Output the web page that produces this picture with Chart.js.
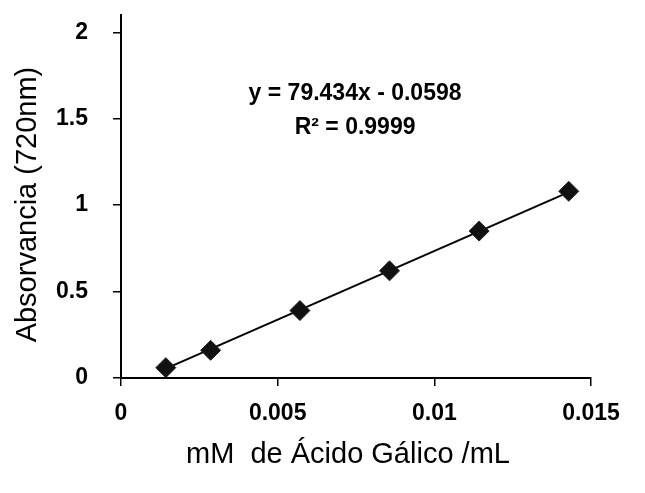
<!DOCTYPE html>
<html>
<head>
<meta charset="utf-8">
<script src="https://cdn.jsdelivr.net/npm/chart.js@4/dist/chart.umd.min.js"></script>
<style>
  html, body { margin: 0; padding: 0; background: #fff; }
  #wrap { width: 645px; height: 493px; position: relative; }
</style>
</head>
<body>
<div id="wrap"><canvas id="myChart"></canvas></div>
<script>
// data
const concX = [0.00143, 0.00286, 0.00571, 0.00857, 0.01143, 0.01429];
const absY = [0.06, 0.16, 0.39, 0.62, 0.85, 1.08];
// trend line ends (from the fitted line shown)
const trendX = [0.00143, 0.01429];
const trendY = [0.054, 1.075];
const xTickLabels = ['0', '0.005', '0.01', '0.015'];
const yTickLabels = ['0', '0.5', '1', '1.5', '2'];
const eqLines = ['y = 79.434x - 0.0598', 'R\u00b2 = 0.9999'];
const eqPos = [[0.00747, 1.647], [0.00747, 1.451]];

const points = concX.map((x, i) => ({ x: x, y: absY[i] }));
const trend = trendX.map((x, i) => ({ x: x, y: trendY[i] }));
const FONT = '"Liberation Sans", Arial, sans-serif';

// draws the equation label inside the plot
const eqLabel = {
  id: 'eqLabel',
  afterDatasetsDraw(chart) {
    const ctx = chart.ctx;
    const xs = chart.scales.x, ys = chart.scales.y;
    ctx.save();
    ctx.fillStyle = '#000';
    ctx.font = 'bold 23px ' + FONT;
    ctx.textAlign = 'center';
    ctx.textBaseline = 'middle';
    eqLines.forEach((t, i) => {
      ctx.fillText(t, xs.getPixelForValue(eqPos[i][0]), ys.getPixelForValue(eqPos[i][1]));
    });
    ctx.restore();
  }
};

const config = {
  type: 'scatter',
  data: {
    datasets: [{
      label: 'puntos',
      data: points,
      pointStyle: 'rectRot',
      pointRadius: 10,
      pointBackgroundColor: '#111',
      pointBorderColor: '#222',
      pointBorderWidth: 1,
      order: 1
    }, {
      type: 'line',
      label: 'tendencia',
      data: trend,
      borderColor: '#000',
      borderWidth: 2,
      pointRadius: 0,
      fill: false,
      order: 2
    }]
  },
  options: {
    responsive: true,
    maintainAspectRatio: false,
    animation: false,
    layout: { padding: { top: 15, right: 54, bottom: 17, left: 8 } },
    plugins: { legend: { display: false }, tooltip: { enabled: false } },
    scales: {
      x: {
        type: 'linear',
        min: 0,
        max: 0.015,
        afterBuildTicks: s => { s.ticks = xTickLabels.map(v => ({ value: Number(v) })); },
        afterFit: s => { s.height = 98; },
        ticks: {
          padding: 14,
          color: '#000',
          font: { family: FONT, size: 23, weight: 'bold' },
          callback: (v, i) => xTickLabels[i]
        },
        grid: { drawOnChartArea: false, drawTicks: true, tickLength: 8, color: '#000', lineWidth: 1.5 },
        border: { color: '#000', width: 2 },
        title: {
          display: true,
          text: 'mM  de Ácido Gálico /mL  ',
          color: '#000',
          padding: { top: 0, bottom: 4 },
          font: { family: FONT, size: 29 }
        }
      },
      y: {
        min: 0,
        max: 2.1,
        afterBuildTicks: s => { s.ticks = yTickLabels.map(v => ({ value: Number(v) })); },
        afterFit: s => { s.width = 113; s.paddingTop = 0; s.paddingBottom = 0; },
        ticks: {
          padding: 25,
          color: '#000',
          font: { family: FONT, size: 23, weight: 'bold' },
          callback: (v, i) => yTickLabels[i]
        },
        grid: { drawOnChartArea: false, drawTicks: true, tickLength: 8, color: '#000', lineWidth: 1.5 },
        border: { color: '#000', width: 2 },
        title: {
          display: true,
          text: 'Absorvancia (720nm)  ',
          color: '#000',
          padding: { top: 3, bottom: 0 },
          font: { family: FONT, size: 29 }
        }
      }
    }
  },
  plugins: [eqLabel]
};

const myChart = new Chart(document.getElementById('myChart'), config);
</script>
</body>
</html>
